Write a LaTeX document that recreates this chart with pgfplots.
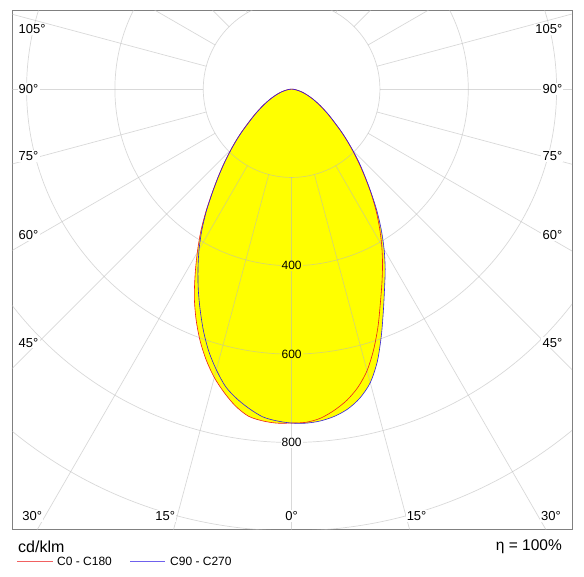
\documentclass[border=0pt]{standalone}
\usepackage{pgfplots}
\pgfplotsset{compat=1.18}
\usepackage{pgfplotstable}
\usepackage{fontspec}
\setmainfont{Liberation Sans}
\definecolor{gridc}{RGB}{185,185,185}
\definecolor{framec}{RGB}{128,128,128}
\definecolor{lred}{RGB}{235,30,30}
\definecolor{lblue}{RGB}{50,30,230}
\definecolor{yel}{RGB}{255,255,0}
\tikzset{
  gridline/.style={gridc, opacity=0.55, line width=0.7pt},
  alab/.style={fill=white, inner sep=1.2pt, font=\fontsize{13}{15}\selectfont},
  rlab/.style={inner sep=1pt, font=\fontsize{12}{14}\selectfont},
}
% gamma (negative = left half), intensity in cd/klm
\pgfplotstableread{
g red blue
-90 0 0
-85 5 5
-80 12 12
-75 23 23
-70 36 36
-65 53 53
-60 75 75
-55 104 103
-50 143 142
-47.5 168 167
-45 195 194
-42.5 225 224
-40 258 257
-37.5 295 294
-35 338 336
-32.5 383 378
-30 427 419
-27.5 473 459
-25 521 500
-22.5 565 541
-20 606 583
-17.5 643 623
-15 676 658
-12.5 704 690
-10 729 712
-7.5 747 730
-5 754 745
-2.5 757 752
0 756 756
2.5 755 757
5 748 754
7.5 734 747
10 716 735
12.5 692 716
15 660 688
17.5 618 646
20 572 594
22.5 525 543
25 484 498
27.5 446 459
30 408 419
32.5 370 378
35 332 337
37.5 294 296
40 257 259
42.5 224 227
45 194 196
47.5 167 168
50 142 143
55 103 104
60 75 75
65 53 53
70 36 36
75 23 23
80 12 12
85 5 5
90 0 0
}\ldt
\begin{document}
\begin{tikzpicture}
\useasboundingbox (0,0) rectangle (584pt,576pt);
\begin{axis}[
  anchor=south west, at={(12pt,46.5pt)},
  x=0.4417pt, y=0.4417pt,
  xmin=-633, xmax=635, ymin=-997, ymax=177,
  xtick=\empty, ytick=\empty,
  axis line style={draw=framec, line width=0.9pt},
  clip=true, no markers,
]
\addplot[fill=yel, draw=none, smooth, data cs=polar] table[x expr=\thisrow{g}+270, y=red] {\ldt};
\addplot[fill=yel, draw=none, smooth, data cs=polar] table[x expr=\thisrow{g}+270, y=blue] {\ldt};
\pgfplotsinvokeforeach{200,400,600,800,1000,1200}{
  \draw[gridline] (axis cs:0,0) circle[radius=#1];
}
\pgfplotsinvokeforeach{0,15,...,345}{
  \draw[gridline] (axis cs:{200*cos(#1)},{200*sin(#1)}) -- (axis cs:{1500*cos(#1)},{1500*sin(#1)});
}
\addplot[lred, line width=0.6pt, smooth, data cs=polar] table[x expr=\thisrow{g}+270, y=red] {\ldt};
\addplot[lblue, line width=0.6pt, smooth, data cs=polar] table[x expr=\thisrow{g}+270, y=blue] {\ldt};
% radial labels
\node[rlab, fill=yel] at (axis cs:0,-400) {400};
\node[rlab, fill=yel] at (axis cs:0,-600) {600};
\node[rlab, fill=white] at (axis cs:0,-800) {800};
% angle labels left
\node[alab, anchor=west] at (axis cs:-621,135) {105°};
\node[alab, anchor=west] at (axis cs:-621,0) {90°};
\node[alab, anchor=west] at (axis cs:-621,-152) {75°};
\node[alab, anchor=west] at (axis cs:-621,-331) {60°};
\node[alab, anchor=west] at (axis cs:-621,-574) {45°};
% angle labels right
\node[alab, anchor=east] at (axis cs:616,135) {105°};
\node[alab, anchor=east] at (axis cs:616,0) {90°};
\node[alab, anchor=east] at (axis cs:616,-152) {75°};
\node[alab, anchor=east] at (axis cs:616,-331) {60°};
\node[alab, anchor=east] at (axis cs:616,-574) {45°};
% bottom
\node[alab] at (axis cs:-587,-966) {30°};
\node[alab] at (axis cs:-286,-966) {15°};
\node[alab] at (axis cs:0,-966) {0°};
\node[alab] at (axis cs:283,-966) {15°};
\node[alab] at (axis cs:587,-966) {30°};
\end{axis}
\node[anchor=west, inner sep=0pt, font=\fontsize{16}{18}\selectfont] at (18pt,29.5pt) {cd/klm};
\draw[lred!70, line width=0.6pt] (17pt,14.3pt) -- (53pt,14.3pt);
\node[anchor=west, inner sep=0pt, font=\fontsize{12}{14}\selectfont] at (57pt,14.3pt) {C0 - C180};
\draw[lblue!70, line width=0.6pt] (130pt,14.3pt) -- (165pt,14.3pt);
\node[anchor=west, inner sep=0pt, font=\fontsize{12}{14}\selectfont] at (170pt,14.3pt) {C90 - C270};
\node[anchor=east, inner sep=0pt, font=\fontsize{15.5}{17}\selectfont] at (562pt,29.5pt) {η = 100\%};
\end{tikzpicture}
\end{document}
